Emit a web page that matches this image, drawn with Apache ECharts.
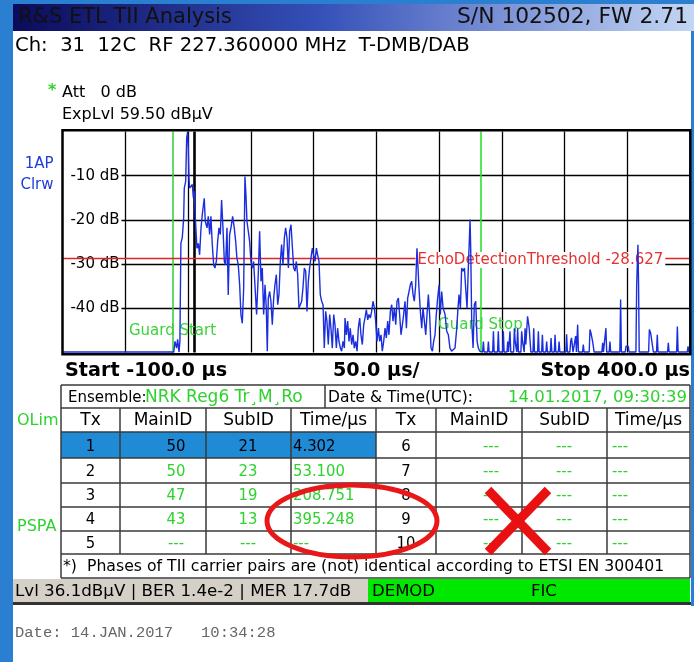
<!DOCTYPE html>
<html><head><meta charset="utf-8">
<script src="https://cdn.jsdelivr.net/npm/echarts@6.0.0/dist/echarts.min.js"></script>
<style>html,body{margin:0;padding:0;background:#fff;}#c{width:694px;height:662px;}</style>
</head><body><div id="c"></div>
<script>
// ---------- data ----------
const xStartUs = -100, xStopUs = 400, xStepUs = 50;
const yTopDb = 0, yBottomDb = -50, yStepDb = 10;
const thresholdDb = -28.627;
const guardStartUs = -12.4, guardStopUs = 232.8, markerUs = 5.0;

// trace: [time in µs, level in dB]
const tracePoints = [
[-100,-49.9],[-11.4,-49.9],[-11.0,-49.9],[-10.4,-47.5],[-9.6,-47.5],[-9.1,-49.0],[-8.3,-47.0],[-7.2,-49.9],[-6.5,-47.5],[-5.9,-47.5],
[-5.7,-25.3],[-4.6,-24.0],[-3.5,-19.6],[-3.0,-12.8],[-1.9,-11.3],[-1.1,-1.5],[-0.35,0],[0.2,-3.8],[0.7,-10.5],[1.2,-12.8],
[2.3,-13.2],[3.4,-12.0],[4.2,-15.0],[5.0,-13.5],[6.0,-20.7],[7.1,-26.4],[8.2,-25.3],[9.2,-27.9],[10.3,-21.9],[11.3,-18.9],
[12.9,-15.1],[13.7,-20.3],[15.1,-21.8],[16.1,-19.2],[17.2,-23.3],[18.2,-19.2],[19.3,-25.6],[20.4,-30.2],[21.4,-30.9],[22.5,-29.4],
[23.6,-24.8],[24.6,-21.8],[25.7,-23.3],[26.7,-15.5],[27.8,-21.8],[28.9,-29.4],[29.9,-30.2],[31.0,-21.8],[32.0,-37.0],[33.1,-23.3],
[34.2,-21.8],[35.5,-19.2],[36.8,-21.8],[37.9,-24.8],[38.9,-28.6],[40.0,-30.2],[41.1,-34.7],[42.1,-41.4],[43.2,-43.4],[44.3,-35.4],
[45.3,-10.2],[46.1,-14.3],[46.9,-20.3],[48.0,-22.6],[49.0,-24.8],[50.1,-29.4],[51.2,-30.9],[52.2,-29.4],[53.3,-29.4],[54.6,-41.4],
[56.0,-31.6],[57.0,-22.6],[58.1,-33.9],[59.1,-30.9],[60.2,-41.4],[61.3,-34.7],[62.3,-39.9],[63.1,-49.7],[63.9,-37.7],[65.0,-36.2],
[66.0,-38.4],[67.1,-43.7],[68.2,-37.7],[69.2,-34.7],[70.3,-32.4],[71.4,-39.2],[72.4,-36.9],[73.5,-29.4],[74.5,-25.6],[75.6,-30.1],
[76.7,-24.1],[77.7,-21.8],[78.8,-24.1],[79.9,-30.9],[80.9,-22.6],[82.0,-21.1],[83.0,-20.7],[84.1,-30.9],[85.2,-31.6],[86.2,-29.4],
[87.3,-32.4],[88.3,-39.9],[89.4,-39.2],[90.5,-38.4],[91.5,-35.4],[92.6,-30.9],[93.7,-31.6],[94.7,-40.7],[95.8,-33.9],[96.8,-30.9],
[97.9,-28.6],[99.0,-26.4],[100.0,-27.9],[101.1,-29.4],[102.2,-26.4],[103.2,-27.9],[104.3,-29.4],[105.3,-36.9],[106.4,-38.4],[107.5,-39.2],
[108.5,-49.0],[109.6,-40.7],[110.6,-42.9],[111.7,-48.2],[112.8,-41.4],[113.8,-44.5],[114.9,-49.0],[116.0,-41.4],[117.0,-43.7],[118.1,-49.0],
[119.1,-44.5],[120.2,-47.5],[121.3,-49.0],[122.3,-49.7],[123.4,-47.5],[124.5,-49.0],[125.0,-42.2],[126.1,-46.0],[127.1,-42.9],[128.2,-47.5],
[129.2,-44.5],[130.3,-48.2],[131.4,-46.0],[132.4,-49.0],[133.5,-47.5],[134.6,-49.7],[135.6,-44.5],[136.7,-42.2],[137.7,-46.0],[138.8,-48.2],
[139.9,-43.7],[140.9,-42.2],[142.0,-40.3],[143.1,-42.6],[144.1,-41.4],[145.2,-42.2],[146.2,-40.7],[147.3,-38.4],[148.4,-39.9],[149.4,-42.9],
[150.5,-47.5],[151.6,-44.5],[152.6,-47.5],[153.7,-46.0],[154.7,-49.7],[155.8,-47.5],[156.9,-44.5],[157.9,-46.7],[159.0,-42.9],[160.0,-46.0],
[161.1,-40.7],[162.2,-39.2],[163.2,-42.9],[164.3,-39.9],[165.4,-43.7],[166.4,-38.4],[167.5,-37.7],[168.5,-41.4],[169.6,-46.0],[170.7,-43.7],
[171.7,-41.4],[172.8,-38.4],[173.9,-44.5],[174.9,-37.7],[176.0,-36.2],[177.0,-34.7],[178.1,-33.9],[179.2,-36.9],[180.2,-38.4],[181.3,-34.7],
[182.3,-26.4],[182.9,-29.4],[183.9,-35.4],[185.0,-40.7],[186.1,-44.5],[187.1,-39.9],[188.2,-42.9],[189.3,-46.0],[190.3,-41.4],[191.4,-36.9],
[192.4,-41.4],[193.5,-49.0],[194.6,-49.7],[195.6,-47.5],[196.7,-46.0],[197.7,-41.4],[198.8,-37.7],[199.9,-34.7],[200.9,-41.4],[202.0,-36.2],
[203.1,-39.9],[204.7,-41.4],[206.0,-45.2],[207.3,-46.0],[208.6,-49.0],[209.9,-49.7],[211.3,-49.7],[212.6,-49.0],[214.0,-44.5],[214.8,-40.7],
[215.8,-36.9],[216.9,-39.9],[217.9,-30.9],[219.0,-31.6],[220.1,-30.9],[221.1,-35.4],[222.2,-39.9],[223.2,-30.9],[224.0,-24.8],[224.6,-19.9],
[225.1,-26.4],[225.9,-42.9],[227.0,-49.0],[228.0,-39.2],[229.1,-38.4],[230.2,-47.5],[231.2,-49.0],[232.3,-49.7],
[234.6,-49.9],[235.2,-47.5],[235.8,-49.9],[238.6,-49.9],[239.2,-47.5],[239.8,-49.9],[242.6,-49.9],[243.2,-45.2],[243.8,-49.9],
[246.5,-49.9],[247.1,-45.2],[247.7,-49.9],[250.5,-49.9],[251.1,-45.2],[251.7,-49.9],[254.0,-49.9],[254.6,-47.5],[255.2,-49.9],
[255.8,-49.9],[256.4,-45.2],[257.0,-49.9],[259.3,-49.9],[259.9,-44.5],[260.5,-47.5],[261.2,-47.5],[261.8,-49.9],[262.0,-49.9],
[262.5,-44.5],[263.1,-49.9],[265.1,-49.9],[265.7,-45.2],[266.4,-47.5],[267.1,-47.5],[267.7,-49.9],[268.0,-49.9],[268.4,-44.5],
[269.0,-48.2],[269.7,-48.2],[270.4,-41.8],[271.0,-41.8],[271.7,-44.5],[272.4,-44.5],[273.0,-49.9],[274.7,-49.9],[275.3,-44.5],
[275.9,-49.9],[278.4,-49.9],[279.0,-45.2],[279.6,-49.9],[281.6,-49.9],[282.2,-46.0],[282.8,-49.9],[285.0,-49.9],[285.6,-47.5],
[286.2,-49.9],[288.5,-49.9],[289.1,-46.7],[289.7,-49.9],[291.7,-49.9],[292.3,-46.0],[292.9,-49.9],[294.9,-49.9],[295.5,-47.5],
[296.1,-49.9],[300.9,-49.9],[301.5,-45.9],[302.1,-49.9],[304.1,-49.9],[304.7,-47.5],[305.4,-46.7],[306.0,-46.7],[306.6,-49.9],
[308.1,-49.9],[308.7,-46.3],[309.3,-49.9],[309.7,-49.9],[310.3,-43.7],[310.9,-49.9],[314.2,-49.9],[314.8,-48.2],[315.4,-49.9],
[319.5,-49.9],[320.1,-44.8],[320.9,-45.6],[321.7,-45.6],[322.2,-47.5],[322.8,-47.5],[323.4,-49.9],[329.6,-49.9],[330.2,-47.8],
[330.8,-49.9],[332.2,-49.9],[332.8,-44.5],[333.4,-49.9],[335.4,-49.9],[336.0,-47.5],[336.6,-49.9],[343.9,-49.9],[344.5,-38.0],
[345.1,-49.9],[348.2,-49.9],[348.8,-48.6],[350.6,-48.6],[351.2,-49.9],[356.7,-49.9],[357.3,-34.7],[357.8,-34.7],[358.3,-25.6],
[358.8,-34.7],[359.3,-49.9],[366.8,-49.9],[367.4,-44.8],[368.4,-45.6],[369.0,-46.7],[370.0,-46.7],[370.6,-49.9],[373.1,-49.9],
[373.7,-46.0],[374.3,-49.9],[381.9,-49.9],[382.5,-47.8],[383.1,-49.9],[389.1,-49.9],[389.7,-44.1],[390.3,-49.9],[397.6,-49.9],
[398.2,-48.6],[398.8,-49.9],[400,-49.9]
];

// table values
const tableHeaders = ['Tx','MainID','SubID','Time/µs','Tx','MainID','SubID','Time/µs'];
const txLeft = ['1','2','3','4','5'];
const mainIdLeft = ['50','50','47','43','---'];
const subIdLeft = ['21','23','19','13','---'];
const timeLeft = ['4.302','53.100','208.751','395.248','---'];
const txRight = ['6','7','8','9','10'];
const mainIdRight = ['---','---','---','---','---'];
const subIdRight = ['---','---','---','---','---'];
const timeRight = ['---','---','---','---','---'];

// ---------- layout ----------
const fontV = '"DejaVu Sans", Verdana, sans-serif';
const fontT = '"DejaVu Sans Condensed", "DejaVu Sans", sans-serif';
const GREEN = '#2ed22e';
const G = [];
function rect(x,y,w,h,fill,z){G.push({type:'rect',silent:true,z:z||1,shape:{x:x,y:y,width:w,height:h},style:{fill:fill}});}
function ln(x1,y1,x2,y2,stroke,lw,z){G.push({type:'line',silent:true,z:z||2,shape:{x1:x1,y1:y1,x2:x2,y2:y2},style:{stroke:stroke,lineWidth:lw}});}
function tx(x,y,t,size,fill,align,family,weight,z){G.push({type:'text',silent:true,z:z||3,style:{x:x,y:y,text:t,fill:fill,textAlign:align||'left',textVerticalAlign:'middle',font:(weight||'normal')+' '+size+'px '+(family||fontV)}});}

// frame + title bar
const BLUE = '#2a7fd0';
rect(0,0,13,662,BLUE);
rect(0,0,694,4,BLUE);
rect(691,0,3,606,BLUE);
G.push({type:'rect',silent:true,z:1,shape:{x:13,y:4,width:681,height:27},style:{fill:{type:'linear',x:0,y:0,x2:1,y2:0,colorStops:[{offset:0,color:'#0b0b5c'},{offset:0.45,color:'#3550b8'},{offset:1,color:'#c4d6f4'}]}}});
tx(18,17.5,'R&S ETL TII Analysis',21,'#111','left');
tx(688,17.5,'S/N 102502, FW 2.71',21.8,'#111','right');
tx(15,46,'Ch:  31  12C  RF 227.360000 MHz  T-DMB/DAB',19.6,'#000','left');
tx(48,91,'*',16,GREEN,'left',fontV,'bold');
tx(62,93,'Att   0 dB',16,'#000','left');
tx(62,115,'ExpLvl 59.50 dBµV',16,'#000','left');
tx(53.5,164,'1AP',15,'#1e3cdc','right');
tx(53.5,185,'Clrw',15,'#1e3cdc','right');
// plot frame
G.push({type:'rect',silent:true,z:50,shape:{x:62.5,y:130.2,width:627.8,height:224.1},style:{fill:'none',stroke:'#000',lineWidth:2.5}});

// start / span / stop
tx(65,371,'Start ' + xStartUs.toFixed(1) + ' µs',19.2,'#000','left',fontV,'bold');
tx(333,371,xStepUs.toFixed(1) + ' µs/',19.2,'#000','left',fontV,'bold');
tx(690,371,'Stop ' + xStopUs.toFixed(1) + ' µs',19.2,'#000','right',fontV,'bold');

// table
const colX = [61,120,206,291,376,436,522,607,690];
const rowY = [408,432,458,483,507,531,554];
const LINE = '#3a3a3a';
rect(61,432,315,26,'#1f8ad6');
// ensemble box
ln(61,385,690,385,LINE,1.5); ln(61,385,61,408,LINE,1.5); ln(325,385,325,408,LINE,1.5); ln(690,385,690,408,LINE,1.5);
tx(68,398,'Ensemble:',15,'#000','left');
tx(145,398,'NRK Reg6 Tr¸M¸Ro',17,GREEN,'left',fontV);
tx(328,398,'Date & Time(UTC):',15.5,'#000','left');
tx(687,398,'14.01.2017, 09:30:39',16.5,GREEN,'right',fontV);
rowY.forEach(function(y){ln(61,y,690,y,LINE,1.5);});
colX.forEach(function(x){ln(x,408,x,554,LINE,1.5);});
ln(61,554,61,578,LINE,1.5); ln(690,554,690,578,LINE,1.5); ln(61,578,690,578,LINE,1.5);
tx(17,421,'OLim',16,GREEN,'left');
tx(17,527,'PSPA',16,GREEN,'left');
tableHeaders.forEach(function(h,i){tx((colX[i]+colX[i+1])/2,421,h,17,'#000','center');});
const rowC = [446.5,471.5,496,520,543.5];
for (let r=0;r<5;r++){
  const c = r===0 ? '#000' : GREEN;
  tx(90.5,rowC[r],txLeft[r],16.5,'#000','center',fontT);
  tx(176,rowC[r],mainIdLeft[r],16.5,c,'center',fontT);
  tx(248,rowC[r],subIdLeft[r],16.5,c,'center',fontT);
  tx(293,rowC[r],timeLeft[r],16.5,c,'left',fontT);
  tx(406,rowC[r],txRight[r],16.5,'#000','center',fontT);
  tx(491,rowC[r],mainIdRight[r],16.5,GREEN,'center',fontT);
  tx(564,rowC[r],subIdRight[r],16.5,GREEN,'center',fontT);
  tx(612,rowC[r],timeRight[r],16.5,GREEN,'left',fontT);
}
tx(63,567,'*)  Phases of TII carrier pairs are (not) identical according to ETSI EN 300401',15.7,'#000','left');
// status bar
rect(13,579,355,23,'#d4d0c8');
rect(368,579,322,23,'#00e800');
rect(13,602,678,3,'#333');
tx(15,591.5,'Lvl 36.1dBµV | BER 1.4e-2 | MER 17.7dB',16.7,'#000','left',fontV);
tx(372,591.5,'DEMOD',16.5,'#000','left',fontV);
tx(531,591.5,'FIC',16.5,'#000','left',fontV);
// print date
tx(15,633,'Date: 14.JAN.2017   10:34:28',15.5,'#666','left','"Liberation Mono", monospace');
// annotations
G.push({type:'ellipse',silent:true,z:80,shape:{cx:352,cy:521,rx:85,ry:36},style:{fill:'none',stroke:'#e81818',lineWidth:5}});
ln(488,490,548,552,'#e81010',9,81);
ln(548,490,488,552,'#e81010',9,81);

const chart = echarts.init(document.getElementById('c'), null, {renderer:'canvas'});
chart.setOption({
  animation:false,
  backgroundColor:'#fff',
  grid:{left:62.5,top:131.5,width:627.8,height:221,containLabel:false,outerBoundsMode:'none',show:false},
  xAxis:{type:'value',min:xStartUs,max:xStopUs,interval:xStepUs,
    axisLine:{show:false},axisTick:{show:false},axisLabel:{show:false},
    splitLine:{show:true,showMinLine:false,showMaxLine:false,lineStyle:{color:'#000',width:1.3}}},
  yAxis:{type:'value',min:yBottomDb,max:yTopDb,interval:yStepDb,
    axisLine:{show:false},axisTick:{show:false},
    axisLabel:{show:true,inside:true,margin:59,align:'right',showMinLabel:false,showMaxLabel:false,
      formatter:function(v){return v + ' dB';},color:'#000',fontSize:15,fontFamily:'DejaVu Sans',
      backgroundColor:'#fff',padding:[1,2,1,9]},
    splitLine:{show:true,showMinLine:false,showMaxLine:false,lineStyle:{color:'#000',width:1.3}}},
  graphic:{elements:G},
  series:[{
    type:'line',data:tracePoints,showSymbol:false,symbol:'none',
    lineStyle:{color:'#1a2ee0',width:1.4},
    z:5,
    markLine:{silent:true,symbol:'none',animation:false,
      data:[
        {xAxis:guardStartUs,lineStyle:{color:'#3cd23c',width:1.6,type:'solid'},label:{show:false}},
        {xAxis:guardStopUs,lineStyle:{color:'#2ee02e',width:1.6,type:'solid'},label:{show:false}},
        {xAxis:markerUs,lineStyle:{color:'#000',width:2.6,type:'solid'},label:{show:false}},
        {yAxis:thresholdDb,lineStyle:{color:'#e02424',width:1.3,type:'solid'},
          label:{show:true,position:'insideEnd',distance:25,offset:[0,2],
            formatter:'EchoDetectionThreshold ' + thresholdDb,
            color:'#e63030',fontSize:15,fontFamily:'DejaVu Sans',backgroundColor:'#fff',padding:[1,2,0,2]}}
      ]},
    markPoint:{silent:true,symbol:'circle',symbolSize:1,itemStyle:{color:'transparent'},animation:false,
      label:{show:true,position:'inside',formatter:function(p){return p.name;},color:'#3cd23c',fontSize:15,fontFamily:'DejaVu Sans'},
      data:[{name:'Guard Start',coord:[guardStartUs,-45.1]},{name:'Guard Stop',coord:[guardStopUs,-43.7]}]}
  }]
});
</script></body></html>
